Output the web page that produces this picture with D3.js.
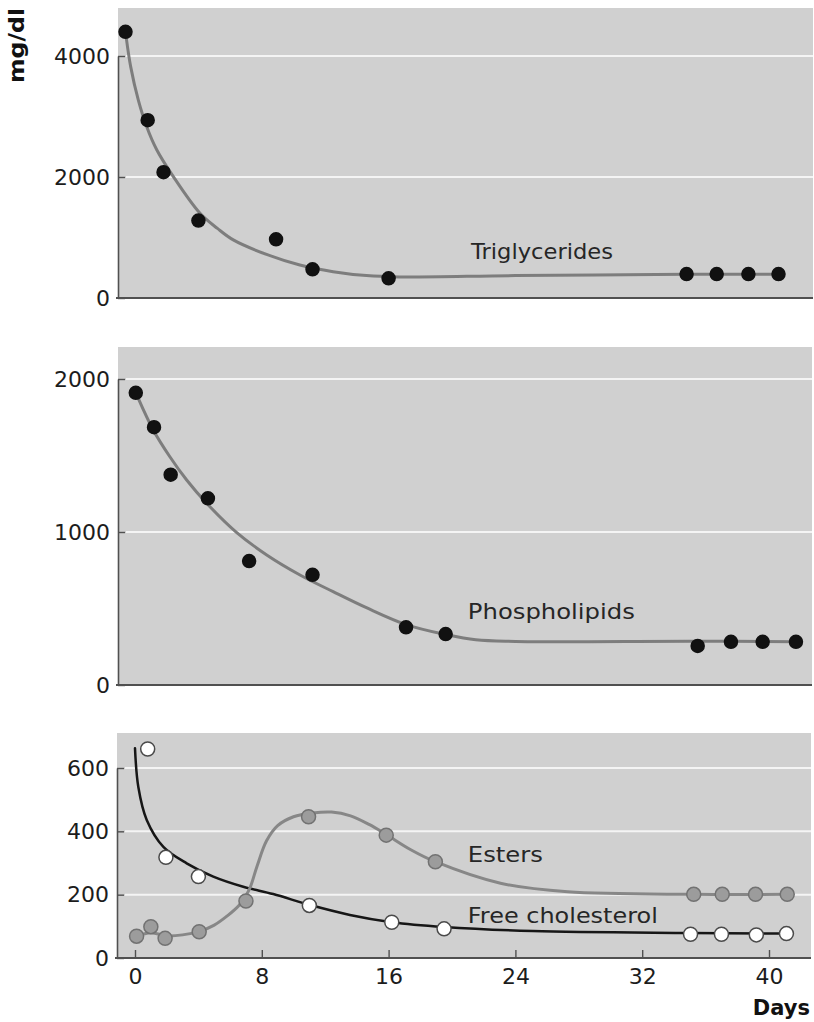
<!DOCTYPE html>
<html>
<head>
<meta charset="utf-8">
<script src="https://cdn.jsdelivr.net/npm/d3@7"></script>
<style>
  html, body { margin: 0; padding: 0; background: #fff; }
  svg { display: block; }
</style>
</head>
<body>
<svg id="chart" width="814" height="1022"></svg>
<script>
// ---- Data: plasma lipid levels (mg/dl) over days ----
const dayTicks = [0, 8, 16, 24, 32, 40];
const trigTicks = [0, 2000, 4000];
const phosTicks = [0, 1000, 2000];
const cholTicks = [0, 200, 400, 600];

// Triglycerides: measured points [day, mg/dl] and fitted curve
const trigPoints = [[-0.6, 4400], [0.8, 2940], [1.8, 2080], [4.0, 1280], [8.9, 970],
  [11.2, 475], [16.0, 325], [34.8, 395], [36.7, 395], [38.7, 395], [40.6, 395]];
const trigFit = [[-0.55, 4300], [-0.27, 3820], [0.21, 3270], [0.74, 2830], [1.37, 2450],
  [2.42, 2005], [4.1, 1400], [5.2, 1150], [6.2, 960], [8.3, 720], [10.4, 545], [12.5, 435],
  [14.6, 370], [16.7, 348], [24, 370], [34.8, 392], [40.6, 392]];

// Phospholipids
const phosPoints = [[0.05, 1910], [1.2, 1685], [2.25, 1375], [4.6, 1220], [7.2, 810],
  [11.2, 720], [17.1, 377], [19.6, 333], [35.5, 255], [37.6, 282], [39.6, 282], [41.7, 282]];
const phosFit = [[0.2, 1875], [1.15, 1667], [2.2, 1492], [3.26, 1340], [4.52, 1188],
  [6.42, 996], [8.31, 850], [10.41, 719], [12.5, 610], [14.6, 505], [17.1, 395],
  [19.6, 330], [21.5, 295], [24.0, 285], [35.4, 286], [41.7, 283]];

// Cholesterol esters
const esterPoints = [[0.1, 69], [1.0, 99], [1.9, 62], [4.05, 83], [7.0, 180], [10.95, 446],
  [15.85, 388], [18.95, 304], [35.25, 201], [37.05, 201], [39.15, 201], [41.15, 201]];
const esterFit = [[0.1, 69], [1.0, 80], [2.0, 70], [3.0, 73], [4.06, 84], [5.0, 104],
  [5.8, 132], [6.6, 168], [7.2, 215], [7.7, 290], [8.3, 370], [9.0, 418], [10.0, 446],
  [11.2, 458], [12.4, 461], [13.6, 449], [14.8, 421], [15.85, 390], [17.4, 342],
  [18.95, 304], [23.06, 236], [27.3, 209], [35.3, 201], [41.2, 201]];

// Free cholesterol
const freePoints = [[0.8, 660], [1.95, 318], [4.0, 257], [11.0, 166], [16.2, 113],
  [19.5, 92], [35.05, 75], [37.0, 75], [39.2, 73], [41.1, 77]];
const freeFit = [[0.0, 662], [0.21, 540], [0.74, 436], [1.79, 351], [3.26, 299],
  [4.94, 257], [6.83, 225], [8.72, 202], [11.0, 168], [13.56, 136], [16.2, 113],
  [19.5, 98], [25.1, 85], [35.0, 79], [41.05, 77]];

const seriesNames = ["Triglycerides", "Phospholipids", "Esters", "Free cholesterol"];

// ---- Layout ----
const svg = d3.select("#chart");
const FONT = "'DejaVu Sans', sans-serif";
const x = d3.scaleLinear().domain([0, 40]).range([135, 769]);

const panels = [
  {
    top: 8, left: 118, right: 813,
    y: d3.scaleLinear().domain([0, 4000]).range([298, 56]),
    ticks: trigTicks,
    series: [{ fit: trigFit, points: trigPoints, curve: "#7d7d7d", cw: 3,
               fill: "#111", stroke: "#111", r: 6.5 }],
    labels: [{ text: seriesNames[0], day: 21.2, value: 645, width: 142 }]
  },
  {
    top: 347, left: 118, right: 812,
    y: d3.scaleLinear().domain([0, 2000]).range([685, 379]),
    ticks: phosTicks,
    series: [{ fit: phosFit, points: phosPoints, curve: "#7d7d7d", cw: 3,
               fill: "#111", stroke: "#111", r: 6.5 }],
    labels: [{ text: seriesNames[1], day: 21.0, value: 431, width: 167 }]
  },
  {
    top: 733, left: 117, right: 811,
    y: d3.scaleLinear().domain([0, 600]).range([958, 768]),
    ticks: cholTicks,
    xAxis: true,
    series: [
      { fit: freeFit, points: freePoints, curve: "#161616", cw: 2.5,
        fill: "#ffffff", stroke: "#4a4a4a", r: 7 },
      { fit: esterFit, points: esterPoints, curve: "#878787", cw: 3,
        fill: "#9c9c9c", stroke: "#727272", r: 7 }
    ],
    labels: [
      { text: seriesNames[2], day: 21.0, value: 302, width: 75 },
      { text: seriesNames[3], day: 21.0, value: 112, width: 190 }
    ]
  }
];

const fmt = d3.format("d");

panels.forEach(p => {
  const y = p.y;
  const g = svg.append("g");
  const base = y(0);

  // panel background
  g.append("rect")
    .attr("x", p.left).attr("y", p.top)
    .attr("width", p.right - p.left).attr("height", base - p.top)
    .attr("fill", "#d0d0d0");

  // white gridlines
  g.selectAll(".grid").data(p.ticks.filter(t => t > 0)).join("line")
    .attr("x1", p.left + 8).attr("x2", p.right)
    .attr("y1", d => y(d)).attr("y2", d => y(d))
    .attr("stroke", "#f4f4f4").attr("stroke-width", 2);

  // y axis
  const ya = g.append("g").attr("transform", `translate(${p.left},0)`)
    .call(d3.axisLeft(y).tickValues(p.ticks).tickFormat(fmt)
      .tickSize(-7).tickSizeOuter(0).tickPadding(8));
  ya.select(".domain").attr("stroke", "#505050").attr("stroke-width", 1.6);
  ya.selectAll(".tick line").attr("stroke", "#505050").attr("stroke-width", 1.4);
  ya.selectAll(".tick text").attr("font-family", FONT).attr("font-size", 22)
    .attr("fill", "#1c1c1c");

  // baseline
  g.append("line")
    .attr("x1", p.left - 2).attr("x2", p.right)
    .attr("y1", base).attr("y2", base)
    .attr("stroke", "#505050").attr("stroke-width", 2);

  // x axis on the bottom panel
  if (p.xAxis) {
    const xa = g.append("g").attr("transform", `translate(0,${base})`)
      .call(d3.axisBottom(x).tickValues(dayTicks).tickFormat(fmt)
        .tickSize(-8).tickSizeOuter(0).tickPadding(10));
    xa.select(".domain").remove();
    xa.selectAll(".tick line").attr("stroke", "#505050").attr("stroke-width", 1.4);
    xa.selectAll(".tick text").attr("font-family", FONT).attr("font-size", 22)
      .attr("fill", "#1c1c1c");
  }

  const line = d3.line().x(d => x(d[0])).y(d => y(d[1]))
    .curve(d3.curveCatmullRom.alpha(0.5));

  // fitted curves
  p.series.forEach(s => {
    g.append("path").datum(s.fit)
      .attr("d", line).attr("fill", "none")
      .attr("stroke", s.curve).attr("stroke-width", s.cw)
      .attr("stroke-linecap", "round");
  });

  // measured points
  p.series.forEach(s => {
    g.selectAll(null).data(s.points).join("circle")
      .attr("cx", d => x(d[0])).attr("cy", d => y(d[1]))
      .attr("r", s.r)
      .attr("fill", s.fill).attr("stroke", s.stroke).attr("stroke-width", 1.5);
  });

  // series labels
  p.labels.forEach(l => {
    g.append("text")
      .attr("x", x(l.day)).attr("y", y(l.value))
      .attr("font-family", FONT).attr("font-size", 22)
      .attr("fill", "#262626")
      .attr("textLength", l.width).attr("lengthAdjust", "spacingAndGlyphs")
      .text(l.text);
  });
});

// unit label
svg.append("text")
  .attr("transform", "translate(24,45.5) rotate(-90)")
  .attr("text-anchor", "middle")
  .attr("font-family", FONT).attr("font-weight", "bold").attr("font-size", 21)
  .attr("fill", "#111")
  .attr("textLength", 75).attr("lengthAdjust", "spacingAndGlyphs")
  .text("mg/dl");

// x axis title
svg.append("text")
  .attr("x", 810).attr("y", 1015)
  .attr("text-anchor", "end")
  .attr("font-family", FONT).attr("font-weight", "bold").attr("font-size", 21)
  .attr("fill", "#111")
  .text("Days");
</script>
</body>
</html>
